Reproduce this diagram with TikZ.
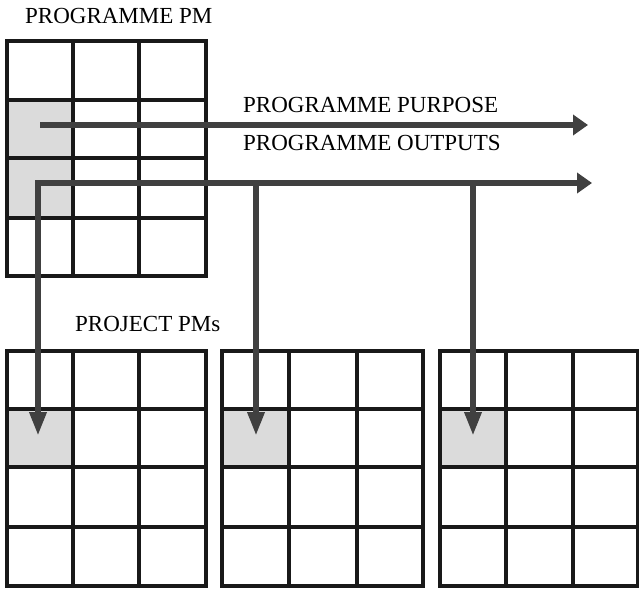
\documentclass[tikz,border=0pt]{standalone}
\usepackage{fontspec}
\setmainfont{Liberation Serif}
\usetikzlibrary{arrows.meta}
\tikzset{
  gridline/.style={line width=3.2pt, black!90},
  shade/.style={fill=black!14},
  flow/.style={line width=6.5pt, black!75, line join=miter},
  hhead/.style={-{Triangle[length=15pt,width=20pt]}},
  vhead/.style={-{Triangle[length=24pt,width=16pt]}},
  lbl/.style={anchor=base west, inner sep=0pt, font=\fontsize{23}{26}\selectfont}
}
\begin{document}
\begin{tikzpicture}[x=1pt,y=-1pt]
\useasboundingbox (0,0) rectangle (639,589);
% shaded cells
\fill[shade] (7,100) rectangle (73,218);
\fill[shade] (7,409) rectangle (73,467);
\fill[shade] (222,409) rectangle (289,467);
\fill[shade] (440,409) rectangle (506,467);
% top grid
\draw[gridline] (7,41) rectangle (206,276);
\foreach \x in {73,139} \draw[gridline] (\x,41) -- (\x,276);
\foreach \y in {100,158,218} \draw[gridline] (7,\y) -- (206,\y);
% bottom grids
\foreach \a/\b/\c/\d in {7/73/139/206, 222/289/357/423, 440/506/573/637.4}{
  \draw[gridline] (\a,351) rectangle (\d,586);
  \draw[gridline] (\b,351) -- (\b,586);
  \draw[gridline] (\c,351) -- (\c,586);
  \foreach \y in {409,467,527} \draw[gridline] (\a,\y) -- (\d,\y);
}
% coordinates
\coordinate (ps) at (40,125);
\coordinate (pe) at (588,125);
\coordinate (oc) at (38,183);
\coordinate (oe) at (592,183);
\coordinate (o2) at (256,183);
\coordinate (o3) at (473,183);
\coordinate (t1) at (38,436);
\coordinate (t2) at (256,436);
\coordinate (t3) at (473,436);
% arrows
\draw[flow,hhead] (ps) -- (pe);
\draw[flow,hhead] (35,183) -- (oe);
\draw[flow,vhead] (oc) -- (t1);
\draw[flow,vhead] (o2) -- (t2);
\draw[flow,vhead] (o3) -- (t3);
% labels
\node[lbl] (l1) at (25,23) {PROGRAMME PM};
\node[lbl] (l2) at (243,112) {PROGRAMME PURPOSE};
\node[lbl] (l3) at (243,150) {PROGRAMME OUTPUTS};
\node[lbl] (l4) at (75,331) {PROJECT PMs};
\end{tikzpicture}
\end{document}
